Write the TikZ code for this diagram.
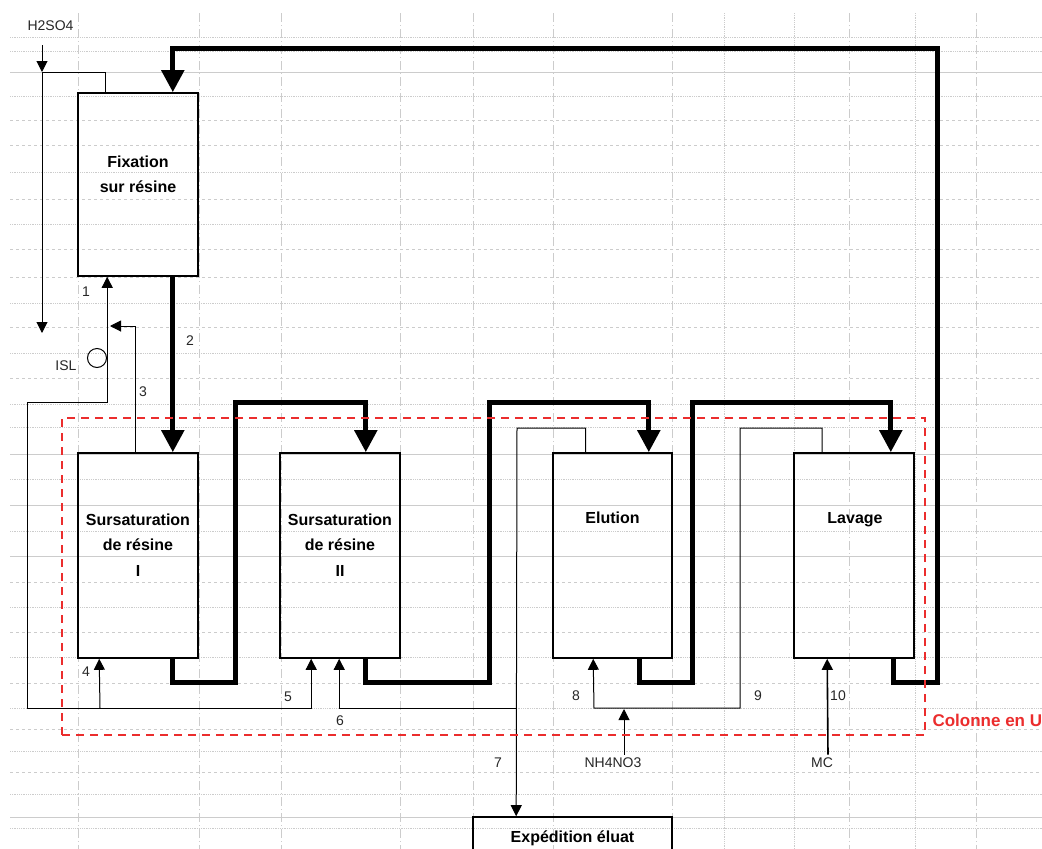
\documentclass[tikz,border=0pt]{standalone}
\usepackage{fontspec}
\setmainfont{Liberation Sans}
\usetikzlibrary{arrows.meta}
\definecolor{colrouge}{RGB}{235,45,45}

\begin{document}
\begin{tikzpicture}[x=1pt, y=-1pt, >={Triangle[length=11pt,width=11pt]},
    bac/.style={draw, line width=1.6pt, minimum width=120pt, minimum height=205pt, inner sep=0pt},
    titre/.style={font=\fontsize{16}{25.5}\selectfont\bfseries, align=center},
    num/.style={font=\fontsize{14}{16}\selectfont, text=black!85},
    fil/.style={line width=1pt, ->},
    tuyau/.style={line width=5pt, -{Triangle[length=22pt,width=22pt]}},
    grille/.style={gray!40, line width=0.8pt}]
    \useasboundingbox (0,0) rectangle (1042,849);

    % grille du tableur
    \foreach \y in {72,454,505,556,817}
        \draw[grille] (10,\y) -- (1042,\y);
    \foreach \y in {37,51,96,172,224,303,353,404,427,479,531,607,657,708,751,794,828}
        \draw[grille, densely dotted] (10,\y) -- (1042,\y);
    \foreach \y in {120,145,199,249,277,327,378,582,632,683,729,772}
        \draw[grille, dashed] (10,\y) -- (1042,\y);
    \foreach \x in {78,199,281,400,473,553,672,849,976}
        \draw[grille, dash pattern=on 9pt off 3pt on 1pt off 3pt] (\x,13) -- (\x,849);
    \foreach \x in {724,794,915}
        \draw[grille, densely dotted] (\x,13) -- (\x,849);

    \node[bac, minimum height=183pt] (fix) at (138,184.5) {};
    \node[bac] (sur1) at (138,555.5) {};
    \node[bac] (sur2) at (340,555.5) {};
    \node[bac, minimum width=119pt] (elu) at (612.5,555.5) {};
    \node[bac] (lav) at (854,555.5) {};
    \node[bac, minimum width=199pt, minimum height=46pt] (exp) at (572.5,840) {};

    \node[titre] (fixt) at (138,174.5) {Fixation\\sur résine};
    \node[titre] (sur1t) at (138,545) {Sursaturation\\de résine\\I};
    \node[titre] (sur2t) at (340,545) {Sursaturation\\de résine\\II};
    \node[titre] (elut) at (612.5,518) {Elution};
    \node[titre] (lavt) at (855,520) {Lavage};
    \node[titre] (expt) at (572.5,838) {Expédition éluat};

    \draw[tuyau] ([xshift=-26pt]fix.south east) -- ([xshift=-26pt]sur1.north east);
    \draw[tuyau] ([xshift=-26pt]sur1.south east) -- ++(0,24) -| (235,402) -| ([xshift=-35pt]sur2.north east);
    \draw[tuyau] ([xshift=-35pt]sur2.south east) -- ++(0,24) -| (489,402) -| ([xshift=-24pt]elu.north east);
    \draw[tuyau] ([xshift=-33pt]elu.south east) -- ++(0,24) -| (692,402) -| ([xshift=-24pt]lav.north east);
    \draw[tuyau] ([xshift=-21pt]lav.south east) -- ++(0,24) -| (937,48) -| ([xshift=-26pt]fix.north east);

    \node[num, anchor=west] (h2so4) at (24,26) {H2SO4};
    \coordinate (h2a) at (42,45);
    \coordinate (h2b) at (42,72);
    \coordinate (h2c) at (42,333);
    \draw[fil] (h2a) -- (h2b);
    \draw[fil] ([xshift=-33pt]fix.north) |- (h2b) -- (h2c);

    \node[draw, circle, line width=1pt, minimum size=19pt, inner sep=0pt] (isl) at (97,358) {};
    \node[num] (islt) at (66,366) {ISL};

    \coordinate (j4) at (100,708);
    \draw[fil] (j4) -- ([xshift=22pt]sur1.south west);
    \draw[fil] (j4) -| (27,402) -| ([xshift=30pt]fix.south west);
    \draw[fil] (j4) -| ([xshift=32pt]sur2.south west);

    \coordinate (r3) at (110,326);
    \draw[fil] ([xshift=-3pt]sur1.north) |- (r3);

    \coordinate (j7) at (517,708);
    \draw[fil] ([xshift=-27pt]elu.north) |- (517,428) -- ([xshift=44pt]exp.north west);
    \draw[fil] (j7) -| ([xshift=60pt]sur2.south west);

    \draw[fil] ([xshift=-32pt]lav.north) |- (740,428) |- (594,708) -- ([xshift=41pt]elu.south west);

    \node[num] (nh4) at (613,763) {NH4NO3};
    \draw[fil] ([xshift=11pt]nh4.north) -- (624,709);
    \node[num] (mc) at (822,763) {MC};
    \draw[fil, line width=1.6pt] ([xshift=6pt]mc.north) -- ([xshift=34pt]lav.south west);

    \node[num] (n1) at (86,292) {1};
    \node[num] (n2) at (190,341) {2};
    \node[num] (n3) at (143,392) {3};
    \node[num] (n4) at (86,672) {4};
    \node[num] (n5) at (288,697) {5};
    \node[num] (n6) at (340,721) {6};
    \node[num] (n7) at (498,763) {7};
    \node[num] (n8) at (576,696) {8};
    \node[num] (n9) at (758,696) {9};
    \node[num] (n10) at (838,696) {10};

    \node[draw=colrouge, line width=2pt, dash pattern=on 8pt off 6pt,
        minimum width=863pt, minimum height=317pt] (col) at (493.5,576.5) {};
    \node[anchor=west, text=colrouge, font=\fontsize{17}{19}\selectfont\bfseries] (colt) at (929,720) {Colonne en U};
\end{tikzpicture}
\end{document}
